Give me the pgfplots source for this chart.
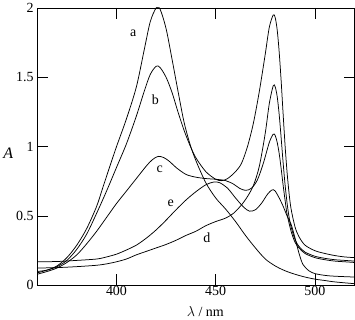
\documentclass[border=0pt]{standalone}
\usepackage{fontspec}
\setmainfont{Liberation Serif}
\usepackage{pgfplots}
\pgfplotsset{compat=1.18}
\begin{document}
\begin{tikzpicture}
\begin{axis}[
  scale only axis, width=317bp, height=277bp,
  xmin=360, xmax=520, ymin=0, ymax=2,
  xtick={400,450,500}, ytick={0,0.5,1,1.5,2},
  tick align=inside, major tick length=11bp,
  tick style={black, line width=0.8pt},
  axis line style={line width=0.8pt},
  /pgf/number format/assume math mode=true,
  tick label style={font=\fontsize{14}{16}\selectfont},
  xticklabel style={yshift=3bp},
  xlabel={$\lambda$ / nm}, ylabel={\textit{A}},
  label style={font=\fontsize{14}{16}\selectfont},
  xlabel style={at={(axis description cs:0.53,-0.094)}, anchor=center},
  ylabel style={rotate=-90, at={(axis description cs:-0.091,0.478)}, anchor=center, font=\fontsize{16}{18}\selectfont},
  spec/.style={black, line width=0.75pt, smooth, tension=0.5, mark=none},
  clip=true,
]
% a
\addplot[spec] coordinates {(360,0.09)(365,0.11)(370,0.14)(375,0.20)(380,0.29)(385,0.41)(390,0.57)(393,0.70)(396,0.83)(400,1.00)(405,1.20)(410,1.43)(414,1.70)(417,1.90)(420,2.00)(422,1.99)(425,1.85)(428,1.63)(431,1.40)(434,1.18)(437,1.02)(440,0.90)(445,0.74)(450,0.63)(455,0.55)(460,0.46)(465,0.36)(470,0.27)(475,0.19)(480,0.14)(485,0.105)(490,0.08)(495,0.06)(500,0.045)(505,0.035)(510,0.025)(520,0.012)};
% b
\addplot[spec] coordinates {(360,0.10)(365,0.11)(370,0.135)(375,0.18)(380,0.26)(385,0.37)(390,0.52)(395,0.68)(400,0.85)(405,1.02)(410,1.22)(414,1.40)(417,1.52)(420,1.58)(422,1.57)(425,1.50)(428,1.39)(431,1.25)(434,1.12)(437,1.01)(440,0.92)(445,0.82)(450,0.765)(453,0.755)(456,0.77)(460,0.82)(463,0.88)(466,1.00)(469,1.17)(472,1.40)(475,1.67)(477,1.86)(479,1.95)(480,1.93)(481,1.84)(482,1.68)(483,1.47)(484,1.23)(485,1.00)(486,0.81)(487,0.66)(488,0.55)(490,0.42)(492,0.35)(495,0.29)(500,0.25)(505,0.23)(510,0.215)(515,0.205)(520,0.20)};
% c
\addplot[spec] coordinates {(360,0.08)(365,0.10)(370,0.125)(375,0.165)(380,0.22)(385,0.30)(390,0.39)(395,0.49)(400,0.59)(405,0.68)(410,0.77)(415,0.86)(418,0.905)(421,0.93)(424,0.92)(427,0.89)(430,0.85)(435,0.80)(440,0.78)(445,0.77)(450,0.765)(455,0.755)(459,0.73)(462,0.70)(465,0.685)(468,0.70)(471,0.76)(474,0.88)(477,1.03)(479,1.09)(480,1.08)(481,1.03)(482,0.95)(483,0.84)(484,0.72)(485,0.61)(486,0.51)(488,0.39)(490,0.31)(492,0.27)(495,0.23)(500,0.20)(505,0.185)(510,0.175)(515,0.17)(520,0.165)};
% d
\addplot[spec] coordinates {(360,0.125)(370,0.128)(380,0.135)(390,0.145)(395,0.155)(400,0.17)(405,0.19)(410,0.22)(415,0.245)(420,0.27)(425,0.295)(430,0.325)(435,0.36)(440,0.39)(445,0.43)(450,0.46)(455,0.485)(459,0.52)(463,0.58)(466,0.64)(469,0.72)(472,0.86)(475,1.10)(477,1.31)(479,1.44)(480,1.43)(481,1.36)(482,1.23)(483,1.06)(484,0.88)(485,0.72)(486,0.59)(487,0.49)(488,0.42)(490,0.33)(492,0.28)(495,0.24)(500,0.21)(505,0.195)(510,0.185)(515,0.18)(520,0.175)};
% e
\addplot[spec] coordinates {(360,0.17)(370,0.172)(380,0.18)(390,0.19)(395,0.205)(400,0.225)(405,0.255)(410,0.29)(415,0.34)(420,0.40)(425,0.47)(430,0.545)(435,0.615)(440,0.675)(445,0.725)(449,0.745)(452,0.74)(456,0.70)(460,0.63)(464,0.565)(467,0.535)(470,0.545)(473,0.59)(476,0.655)(478,0.685)(479,0.69)(480,0.68)(482,0.63)(484,0.57)(486,0.50)(488,0.44)(490,0.34)(492,0.23)(494,0.15)(497,0.105)(500,0.085)(505,0.072)(510,0.066)(520,0.06)};
\node[font=\fontsize{14}{16}\selectfont] at (axis cs:408.4,1.82) {a};
\node[font=\fontsize{14}{16}\selectfont] at (axis cs:419.6,1.34) {b};
\node[font=\fontsize{14}{16}\selectfont] at (axis cs:421.8,0.84) {c};
\node[font=\fontsize{14}{16}\selectfont] at (axis cs:427.3,0.59) {e};
\node[font=\fontsize{14}{16}\selectfont] at (axis cs:445.6,0.345) {d};
\end{axis}
\end{tikzpicture}
\end{document}
